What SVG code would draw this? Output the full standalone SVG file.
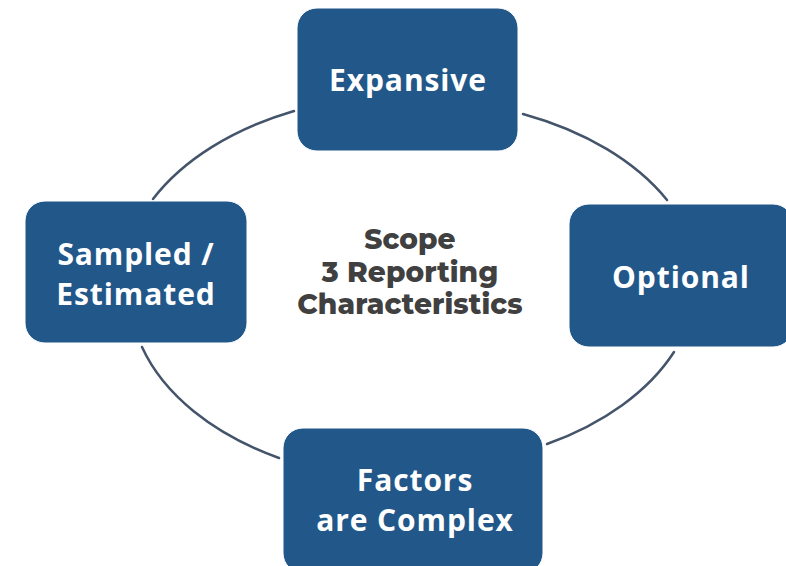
<svg xmlns="http://www.w3.org/2000/svg" width="786" height="566" viewBox="0 0 786 566">
<style>
.box{fill:#22578a;stroke:#ffffff;stroke-width:1}
.lbl{font-family:"Open Sans","Noto Sans",sans-serif;font-weight:700;font-size:30px;fill:#ffffff;text-anchor:middle;letter-spacing:0.9px}
.ctr{font-family:"Montserrat","Open Sans","Noto Sans",sans-serif;font-weight:800;font-size:28px;fill:#404040;text-anchor:middle;letter-spacing:0.1px}
.arc{fill:none;stroke:#44546a;stroke-width:2.5;stroke-linecap:round}
</style>
<rect width="786" height="566" fill="#ffffff"/>
<g id="connectors">
<path class="arc" d="M153,199 A291,188 0 0 1 294,111"/>
<path class="arc" d="M523,114 A291,188 0 0 1 667,200"/>
<path class="arc" d="M674,352 A291,188 0 0 1 547,444"/>
<path class="arc" d="M279,458 A291,188 0 0 1 142,347"/>
</g>
<g id="center">
<text class="ctr" x="410" y="249">Scope</text>
<text class="ctr" x="410" y="282">3 Reporting</text>
<text class="ctr" x="410" y="314">Characteristics</text>
</g>
<g id="expansive">
<rect class="box" x="297" y="8" width="221" height="143" rx="20"/>
<text class="lbl" x="408" y="91">Expansive</text>
</g>
<g id="optional">
<rect class="box" x="569" y="204" width="224" height="143" rx="20"/>
<text class="lbl" x="681" y="288">Optional</text>
</g>
<g id="factors">
<rect class="box" x="283" y="428" width="260" height="145" rx="20"/>
<text class="lbl" x="415" y="491">Factors</text>
<text class="lbl" x="415" y="531">are Complex</text>
</g>
<g id="sampled">
<rect class="box" x="25" y="201" width="222" height="142" rx="20"/>
<text class="lbl" x="136" y="265">Sampled /</text>
<text class="lbl" x="136" y="305">Estimated</text>
</g>
</svg>
